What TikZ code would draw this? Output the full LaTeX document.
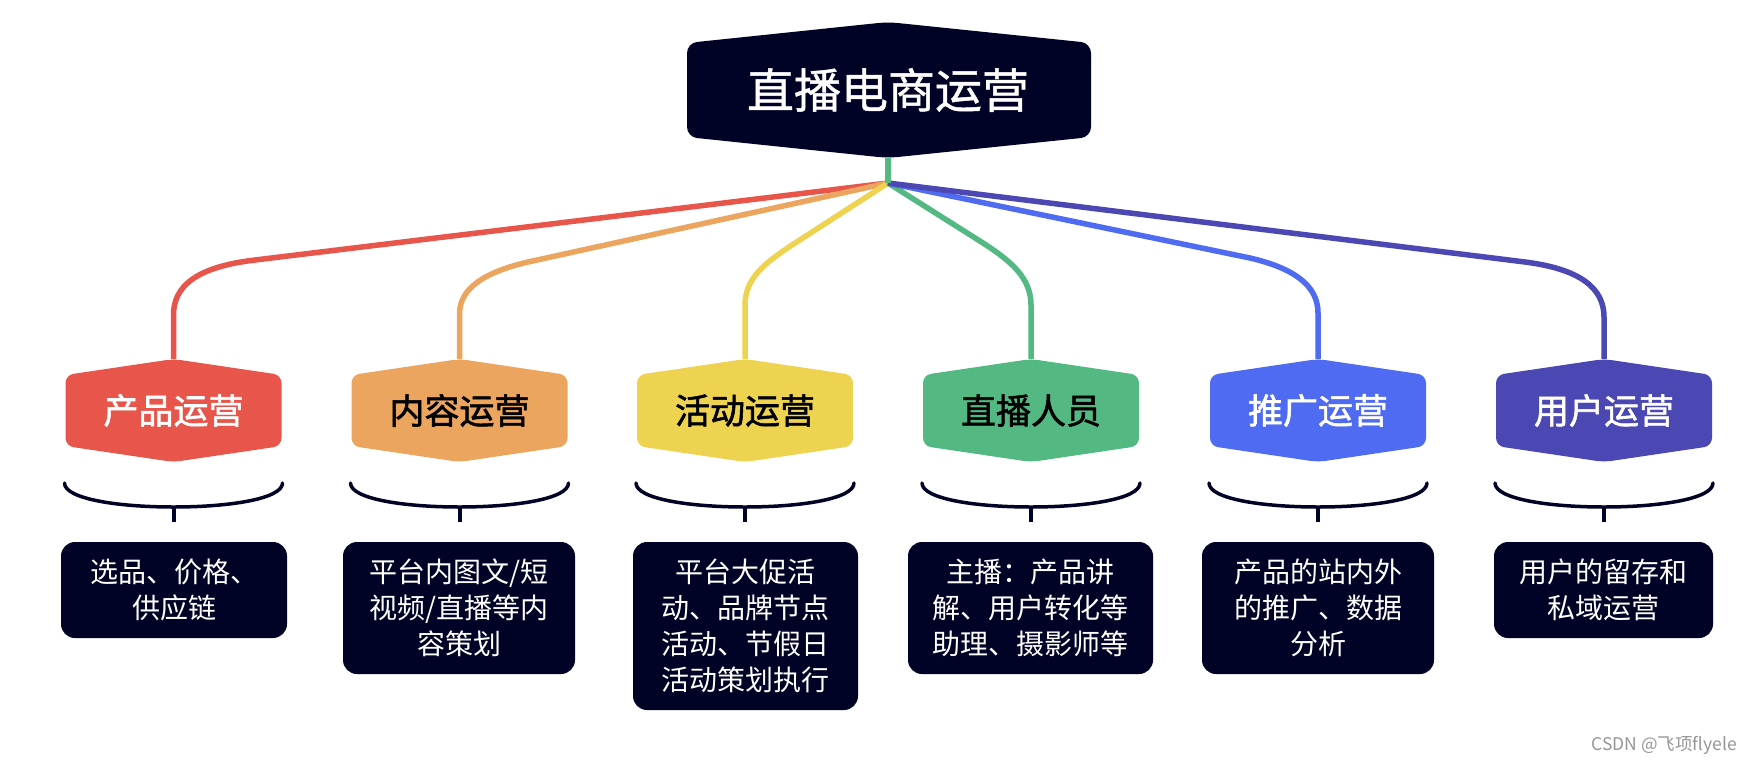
\documentclass[tikz,border=0pt]{standalone}
\usepackage{fontspec}
\setmainfont{Noto Sans CJK SC}
\newfontfamily\cjkbold[FakeBold=1.6]{Noto Sans CJK SC}
\newfontfamily\cjkmid[FakeBold=1.0]{Noto Sans CJK SC}
\definecolor{navy}{RGB}{1,3,38}
\definecolor{cred}{RGB}{232,85,74}
\definecolor{corange}{RGB}{235,165,94}
\definecolor{cyellow}{RGB}{237,211,80}
\definecolor{cgreen}{RGB}{84,184,131}
\definecolor{cblue}{RGB}{78,107,242}
\definecolor{cpurple}{RGB}{75,71,179}
\definecolor{wmgrey}{RGB}{150,150,150}
\tikzset{
  conn/.style={line width=5.5pt, line join=round},
  bracestyle/.style={draw=navy, line width=3.5pt, line cap=round},
  tickstyle/.style={draw=navy, line width=4pt},
  childlabel/.style={font=\cjkbold\fontsize{35}{40}\selectfont, inner sep=0pt},
  descbox/.style={fill=navy, rounded corners=14pt, text=white, align=center, inner sep=0pt,
    font=\fontsize{28}{36}\selectfont},
}
\newcommand\ChildHex[5]{%
  \fill[#3, rounded corners=8pt] ({#2-108},375) -- (#2,359) -- ({#2+108},375) -- ({#2+108},446) -- (#2,462) -- ({#2-108},446) -- cycle;
  \node[childlabel, text=#4] (#1) at (#2,410.5) {#5};
  \draw[bracestyle] ({#2-109},483) .. controls ({#2-109},499) and ({#2-55},507) .. (#2,507) .. controls ({#2+55},507) and ({#2+109},499) .. ({#2+109},483);
  \coordinate (#1brace) at (#2,507);
  \coordinate (#1tick) at (#2,522);
  \draw[tickstyle] (#1brace) -- (#1tick);
}
\begin{document}
\begin{tikzpicture}[x=1pt,y=-1pt]
\useasboundingbox[fill=white] (0,0) rectangle (1750,764);

% anchor points
\coordinate (rootbottom) at (888,158);
\coordinate (hub) at (888,183);
\coordinate (p1top) at (173.5,359);
\coordinate (p2top) at (459.5,359);
\coordinate (p3top) at (745,359);
\coordinate (p4top) at (1031,359);
\coordinate (p5top) at (1318,359);
\coordinate (p6top) at (1604,359);

% connectors
\draw[conn, cred] (hub) -- (255,260) .. controls (195,267) and (173.5,287) .. (173.5,315) -- (p1top);
\draw[conn, corange] (hub) -- (528,262) .. controls (485,272) and (459.5,288) .. (459.5,314) -- (p2top);
\draw[conn, cyellow] (hub) -- (792,245) .. controls (765,263) and (745,278) .. (745,305) -- (p3top);
\draw[conn, cgreen] (hub) -- (983,243) .. controls (1011,261) and (1031,278) .. (1031,305) -- (p4top);
\draw[conn, cblue] (hub) -- (1250,258) .. controls (1293,268) and (1318,285) .. (1318,313) -- (p5top);
\draw[conn, cpurple] (hub) -- (1525,262) .. controls (1580,269) and (1604,288) .. (1604,317) -- (p6top);
\draw[conn, cgreen] (rootbottom) -- (hub);

% root
\fill[navy, rounded corners=10pt] (687,43) -- (888,22) -- (1091,43) -- (1091,137) -- (888,158) -- (687,137) -- cycle;
\node[font=\cjkmid\fontsize{47}{56}\selectfont, text=white, inner sep=0pt] (root) at (888,90) {直播电商运营};

% children
\ChildHex{p1}{173.5}{cred}{white}{产品运营}
\ChildHex{p2}{459.5}{corange}{black}{内容运营}
\ChildHex{p3}{745}{cyellow}{black}{活动运营}
\ChildHex{p4}{1031}{cgreen}{black}{直播人员}
\ChildHex{p5}{1318}{cblue}{white}{推广运营}
\ChildHex{p6}{1604}{cpurple}{white}{用户运营}

% descriptions
\node[descbox, minimum width=226pt, minimum height=96pt] (d1) at (174,590) {选品、价格、\\供应链};
\node[descbox, minimum width=232pt, minimum height=132pt] (d2) at (459,608) {平台内图文/短\\视频/直播等内\\容策划};
\node[descbox, minimum width=225pt, minimum height=168pt] (d3) at (745.5,626) {平台大促活\\动、品牌节点\\活动、节假日\\活动策划执行};
\node[descbox, minimum width=245pt, minimum height=132pt] (d4) at (1030.5,608) {主播：产品讲\\解、用户转化等\\助理、摄影师等};
\node[descbox, minimum width=232pt, minimum height=132pt] (d5) at (1318,608) {产品的站内外\\的推广、数据\\分析};
\node[descbox, minimum width=219pt, minimum height=96pt] (d6) at (1603.5,590) {用户的留存和\\私域运营};

% watermark
\node[text=wmgrey, font=\fontsize{17.5}{20}\selectfont, anchor=east, inner sep=0pt] (wm) at (1737,745) {CSDN @飞项flyele};
\end{tikzpicture}
\end{document}
